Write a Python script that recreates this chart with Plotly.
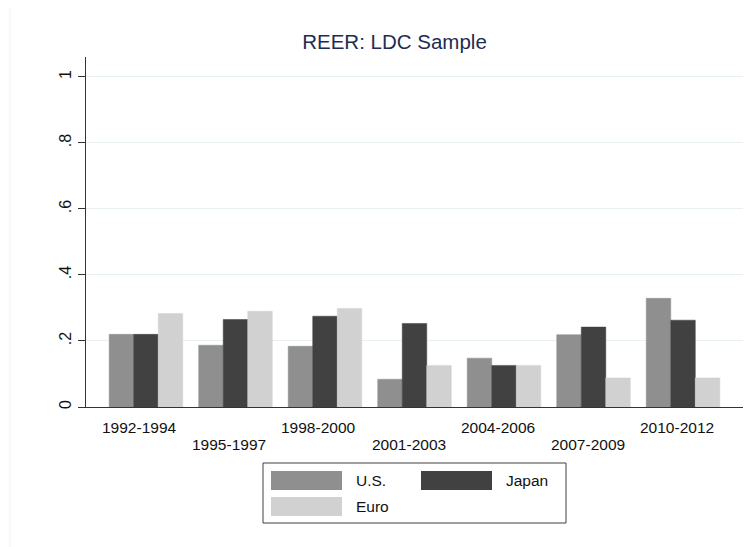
"""
REER: LDC Sample - grouped bar chart in the Stata s2mono look
"""

import plotly.graph_objects as go

# data
periods = ["1992-1994", "1995-1997", "1998-2000", "2001-2003",
           "2004-2006", "2007-2009", "2010-2012"]
us_vals = [0.220, 0.187, 0.184, 0.084, 0.148, 0.219, 0.329]
japan_vals = [0.220, 0.265, 0.275, 0.253, 0.126, 0.242, 0.263]
euro_vals = [0.283, 0.290, 0.298, 0.126, 0.126, 0.088, 0.088]
series_names = ["U.S.", "Japan", "Euro"]
series_colors = ["#8f8f8f", "#414141", "#d1d1d1"]
y_tickvals = [0, 0.2, 0.4, 0.6, 0.8, 1]
y_ticktext = ["0", ".2", ".4", ".6", ".8", "1"]

# the page body has an 8px margin, so the figure sits 8px in from the window
OFF = 8
W, H = 752 - OFF, 547 - OFF
# plot area in window pixels: x 86..743, y 57..407
L, R, T, B = 86 - OFF, 9, 57 - OFF, 140
plot_w = W - L - R
plot_h = H - T - B
FONT = "Arial, Liberation Sans, sans-serif"


def px_x(p):
    # window pixel -> paper x
    return (p - OFF - L) / plot_w


def px_y(p):
    # window pixel (from top) -> paper y
    return (H - B - (p - OFF)) / plot_h


fig = go.Figure()
for name, vals, col in zip(series_names, [us_vals, japan_vals, euro_vals], series_colors):
    fig.add_trace(go.Bar(
        x=periods, y=vals, name=name,
        marker=dict(color=col, line=dict(color=col, width=0.5)),
        showlegend=False,
    ))

# staggered category labels (Stata alternates them)
for i, p in enumerate(periods):
    fig.add_annotation(
        x=p, y=0, xref="x", yref="y",
        text=p, showarrow=False,
        xshift=-6, yshift=-20 if i % 2 == 0 else -37,
        font=dict(family=FONT, size=15.5, color="#111111"),
        xanchor="center", yanchor="middle",
    )

shapes = []
# faint outer graph region edge
shapes.append(dict(type="line", xref="paper", yref="paper",
                   x0=px_x(10), x1=px_x(10), y0=px_y(4), y1=px_y(547),
                   line=dict(color="#eef3f4", width=1)))
shapes.append(dict(type="line", xref="paper", yref="paper",
                   x0=px_x(10), x1=px_x(752), y0=px_y(4), y1=px_y(4),
                   line=dict(color="#eef3f4", width=1)))

# hand-built legend with wide Stata-style keys
shapes.append(dict(type="rect", xref="paper", yref="paper",
                   x0=px_x(263), x1=px_x(566), y0=px_y(523), y1=px_y(463),
                   line=dict(color="#404040", width=1), fillcolor="white"))
legend_slots = [(271, 471, 354), (421, 471, 504), (271, 497, 354)]
for (kx, ky, tx), name, col in zip(legend_slots, series_names, series_colors):
    shapes.append(dict(type="rect", xref="paper", yref="paper",
                       x0=px_x(kx), x1=px_x(kx + 71), y0=px_y(ky + 19), y1=px_y(ky),
                       line=dict(width=0), fillcolor=col))
    fig.add_annotation(
        x=px_x(tx), y=px_y(ky + 9.5), xref="paper", yref="paper",
        text=name, showarrow=False, xanchor="left", yanchor="middle",
        font=dict(family=FONT, size=15.5, color="#111111"),
    )

fig.update_layout(
    width=W, height=H,
    margin=dict(l=L, r=R, t=T, b=B, pad=0),
    paper_bgcolor="white", plot_bgcolor="white",
    barmode="group", bargap=0.178, bargroupgap=0,
    shapes=shapes,
    title=dict(text="REER: LDC Sample", x=(394.5 - OFF) / W, xanchor="center",
               y=1 - (41.7 - OFF) / H, yanchor="middle",
               font=dict(family=FONT, size=20.5, color="#1e2d4f")),
    font=dict(family=FONT, size=15.5, color="#111111"),
)

fig.update_xaxes(
    range=[-0.67, 6.67], showticklabels=False, ticks="",
    showgrid=False, showline=True, linecolor="#333333", linewidth=1.3,
    zeroline=False,
)
fig.update_yaxes(
    range=[0, 1.06], tickvals=y_tickvals, ticktext=y_ticktext,
    tickangle=-90, ticks="outside", ticklen=7, tickcolor="#333333", tickwidth=1.3,
    showline=True, linecolor="#333333", linewidth=1.3,
    showgrid=True, gridcolor="#e8f0f2", gridwidth=1.2, zeroline=False,
    tickfont=dict(family=FONT, size=16, color="#111111"),
)

fig.write_html("out.html")
